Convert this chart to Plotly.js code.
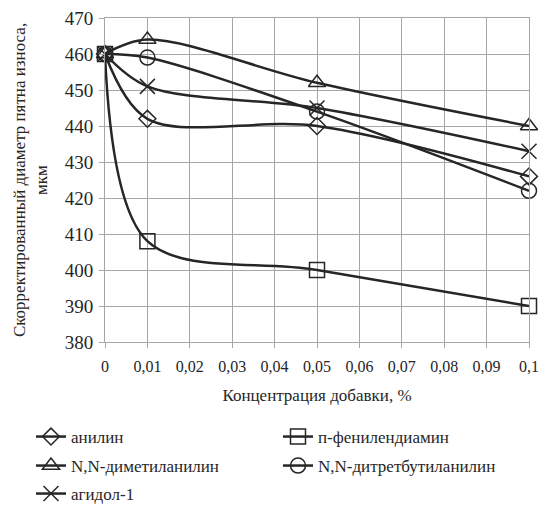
<!DOCTYPE html>
<html><head><meta charset="utf-8">
<script src="https://cdn.plot.ly/plotly-3.0.1.min.js"></script>
<style>html,body{margin:0;padding:0;background:#fff}#c{width:547px;height:511px}</style>
</head><body><div id="c"></div>
<script>
const conc = [0, 0.01, 0.05, 0.1];
const anilin = [460, 442, 440, 426];
const pPhenylenediamine = [460, 408, 400, 390];
const dimethylaniline = [460, 464, 452, 440];
const ditertbutylaniline = [460, 459, 444, 422];
const agidol = [460, 451, 445, 433];
const names = ['анилин', 'п-фенилендиамин', 'N,N-диметиланилин', 'N,N-дитретбутиланилин', 'агидол-1'];
const xTickVals = [0, 0.01, 0.02, 0.03, 0.04, 0.05, 0.06, 0.07, 0.08, 0.09, 0.1];
const xTickText = ['0', '0,01', '0,02', '0,03', '0,04', '0,05', '0,06', '0,07', '0,08', '0,09', '0,1'];

const series = [anilin, pPhenylenediamine, dimethylaniline, ditertbutylaniline, agidol];
const symbols = ['diamond-open', 'square-open', 'triangle-up-open', 'circle-open', 'x-thin-open'];
const legendIds = ['legend', 'legend', 'legend2', 'legend2', 'legend3'];
const sizes = [13, 15, 15, 15, 15];
const col = '#262626';
const serif = 'Liberation Serif, Times New Roman, DejaVu Serif, serif';
const traces = series.map((y, i) => ({
  x: conc, y: y, name: names[i], type: 'scatter', mode: 'lines+markers',
  legend: legendIds[i],
  line: {color: col, width: 2.5, shape: 'spline', smoothing: 0.95},
  marker: {symbol: symbols[i], size: sizes[i], color: col, line: {color: col, width: 1.5}},
  cliponaxis: false
}));

const PT = 18, PB = 342, PL = 105, PR = 529;
function leg(ypx) {
  return {
    orientation: 'h', x: (31 - PL) / (PR - PL), xref: 'paper', xanchor: 'left',
    y: (PB - ypx) / (PB - PT), yref: 'paper', yanchor: 'middle',
    entrywidth: 202, entrywidthmode: 'pixels',
    font: {family: serif, size: 17, color: '#262626'}, itemwidth: 30,
    bgcolor: 'rgba(0,0,0,0)'
  };
}
const layout = {
  width: 547, height: 511,
  margin: {l: PL, r: 547 - PR, t: PT, b: 511 - PB, autoexpand: false},
  paper_bgcolor: '#fff', plot_bgcolor: '#fff',
  font: {family: serif, color: '#262626', size: 16},
  showlegend: true,
  xaxis: {
    range: [0, 0.1], tickvals: xTickVals, ticktext: xTickText,
    showgrid: true, gridcolor: '#a6a6a6', gridwidth: 1,
    zeroline: false, showline: true, linecolor: '#a6a6a6', mirror: true,
    ticks: 'outside', ticklen: 5, tickcolor: '#a6a6a6', ticklabelstandoff: 5,
    tickfont: {family: serif, size: 16, color: '#262626'},
    title: {text: 'Концентрация добавки, %', font: {family: serif, size: 17, color: '#262626'}, standoff: 14}
  },
  yaxis: {
    range: [380, 470], dtick: 10, tick0: 380,
    showgrid: true, gridcolor: '#a6a6a6', gridwidth: 1,
    zeroline: false, showline: true, linecolor: '#a6a6a6', mirror: true,
    ticks: 'outside', ticklen: 5, tickcolor: '#a6a6a6', ticklabelstandoff: 2,
    tickfont: {family: serif, size: 19, color: '#262626'},
    title: {text: 'Скорректированный диаметр пятна износа,<br>мкм', font: {family: serif, size: 17, color: '#262626'}, standoff: 12}
  },
  legend: leg(437),
  legend2: leg(466),
  legend3: leg(494)
};
Plotly.newPlot('c', traces, layout, {displayModeBar: false, staticPlot: true});
</script></body></html>
